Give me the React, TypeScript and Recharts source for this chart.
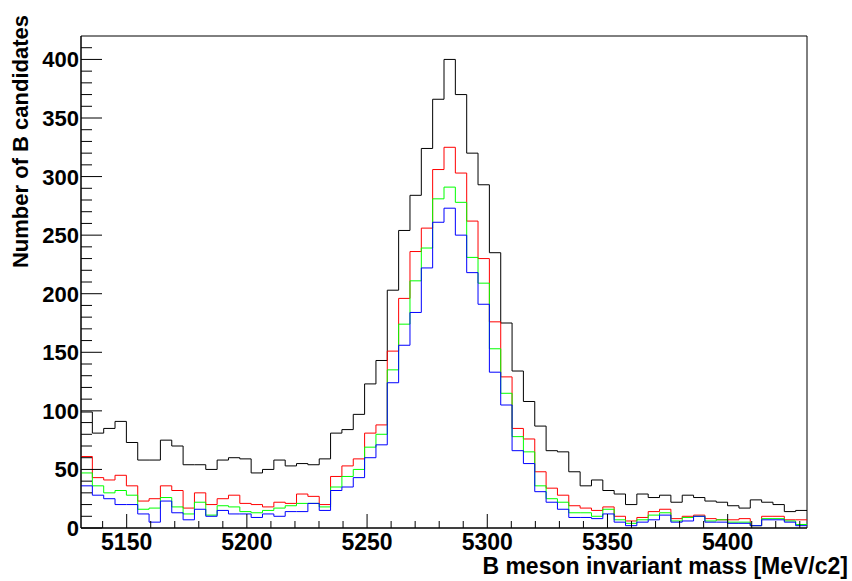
import React from 'react';
import {
  LineChart,
  Line,
  XAxis,
  YAxis,
  ReferenceArea,
} from 'recharts';

// histogram range (MeV/c2) and 64 equal bins
const X_MIN = 5131;
const X_MAX = 5433;
const N_BINS = 64;
const Y_MAX = 420;

// bin contents
const allCounts = [
  99, 81, 85, 91, 73, 58, 58, 75, 70, 54, 54, 50, 58, 60, 59, 47,
  50, 58, 53, 55, 54, 59, 81, 84, 97, 123, 143, 203, 254, 284, 324, 366,
  400, 370, 320, 293, 235, 175, 134, 108, 87, 66, 65, 48, 36, 41, 32, 29,
  20, 29, 26, 28, 22, 28, 26, 23, 22, 19, 17, 24, 22, 20, 14, 15,
];
const redCounts = [
  61, 43, 41, 45, 36, 23, 25, 36, 32, 17, 30, 20, 25, 28, 21, 20,
  18, 22, 21, 29, 27, 20, 44, 53, 59, 81, 88, 151, 196, 236, 256, 306,
  325, 303, 262, 230, 176, 129, 85, 76, 48, 34, 28, 19, 17, 15, 18, 10,
  6, 9, 14, 16, 8, 10, 11, 8, 7, 7, 8, 2, 10, 10, 7, 7,
];
const greenCounts = [
  47, 36, 30, 32, 28, 16, 17, 26, 18, 12, 22, 11, 19, 18, 14, 13,
  15, 17, 19, 21, 21, 18, 35, 44, 50, 69, 80, 135, 174, 211, 239, 281,
  291, 278, 231, 209, 153, 115, 78, 65, 36, 25, 22, 13, 13, 10, 16, 7,
  4, 7, 11, 13, 6, 9, 10, 6, 7, 5, 5, 2, 8, 8, 6, 3,
];
const blueCounts = [
  36, 28, 25, 20, 20, 12, 5, 23, 13, 7, 16, 10, 15, 12, 12, 9,
  12, 10, 14, 14, 21, 15, 32, 35, 43, 60, 71, 124, 156, 184, 222, 261,
  273, 250, 218, 191, 133, 105, 66, 55, 31, 22, 16, 9, 9, 8, 12, 5,
  2, 5, 7, 11, 5, 6, 10, 5, 5, 4, 4, 2, 7, 7, 5, 2,
];

const xMajorTicks = [5150, 5200, 5250, 5300, 5350, 5400];
const yMajorTicks = [0, 50, 100, 150, 200, 250, 300, 350, 400];

const xTicks: number[] = [];
for (let v = 5140; v <= 5430; v += 10) xTicks.push(v);
const yTicks: number[] = [];
for (let v = 0; v <= 410; v += 10) yTicks.push(v);

const binWidth = (X_MAX - X_MIN) / N_BINS;

// one row per bin low edge, plus a closing row at the upper edge
const data = allCounts.map((c, i) => ({
  x: X_MIN + i * binWidth,
  all: c,
  red: redCounts[i],
  green: greenCounts[i],
  blue: blueCounts[i],
}));
data.push({
  x: X_MAX,
  all: allCounts[N_BINS - 1],
  red: redCounts[N_BINS - 1],
  green: greenCounts[N_BINS - 1],
  blue: blueCounts[N_BINS - 1],
});

const FONT = '"Liberation Sans", Arial, Helvetica, sans-serif';

const XTick = (props: any) => {
  const { x, y, payload } = props;
  const major = xMajorTicks.includes(payload.value);
  return (
    <g>
      <line x1={x} y1={y} x2={x} y2={y - (major ? 14 : 7)} stroke="#000" />
      {major && (
        <text x={x} y={y + 22} textAnchor="middle" fontFamily={FONT}
          fontWeight="bold" fontSize={23} fill="#000">
          {payload.value}
        </text>
      )}
    </g>
  );
};

const YTick = (props: any) => {
  const { x, y, payload } = props;
  const major = yMajorTicks.includes(payload.value);
  return (
    <g>
      <line x1={x} y1={y} x2={x + (major ? 21 : 11)} y2={y} stroke="#000" />
      {major && (
        <text x={x - 2} y={y + 8} textAnchor="end" fontFamily={FONT}
          fontWeight="bold" fontSize={22} fill="#000">
          {payload.value}
        </text>
      )}
    </g>
  );
};

export default function App() {
  return (
    <div style={{ position: 'absolute', left: 0, top: 0, background: '#fff' }}>
      <LineChart
        width={852}
        height={581}
        data={data}
        margin={{ top: 36, right: 45, bottom: 0, left: 0 }}
      >
        <XAxis
          dataKey="x"
          type="number"
          domain={[X_MIN, X_MAX]}
          ticks={xTicks}
          interval={0}
          tick={<XTick />}
          tickLine={false}
          tickSize={0}
          tickMargin={0}
          height={53}
          axisLine={{ stroke: '#000' }}
          allowDataOverflow
        />
        <YAxis
          type="number"
          domain={[0, Y_MAX]}
          ticks={yTicks}
          interval={0}
          tick={<YTick />}
          tickLine={false}
          tickSize={0}
          tickMargin={0}
          width={81}
          axisLine={{ stroke: '#000' }}
          allowDataOverflow
        />
        <ReferenceArea
          x1={X_MIN}
          x2={X_MAX}
          y1={0}
          y2={Y_MAX}
          fill="none"
          fillOpacity={0}
          stroke="#000"
          strokeOpacity={1}
        />
        <Line type="stepAfter" dataKey="all" stroke="#000000" strokeWidth={1}
          dot={false} isAnimationActive={false} />
        <Line type="stepAfter" dataKey="red" stroke="#ff0000" strokeWidth={1}
          dot={false} isAnimationActive={false} />
        <Line type="stepAfter" dataKey="green" stroke="#00ff00" strokeWidth={1}
          dot={false} isAnimationActive={false} />
        <Line type="stepAfter" dataKey="blue" stroke="#0000ff" strokeWidth={1}
          dot={false} isAnimationActive={false} />
      </LineChart>
      <svg width={852} height={581}
        style={{ position: 'absolute', left: 0, top: 0, pointerEvents: 'none' }}>
        <text
          x={848}
          y={574}
          textAnchor="end"
          fontFamily={FONT}
          fontWeight="bold"
          fontSize={23}
          fill="#000"
        >
          B meson invariant mass [MeV/c2]
        </text>
        <text
          transform="translate(28,15) rotate(-90)"
          textAnchor="end"
          fontFamily={FONT}
          fontWeight="bold"
          fontSize={22}
          fill="#000"
        >
          Number of B candidates
        </text>
      </svg>
    </div>
  );
}
